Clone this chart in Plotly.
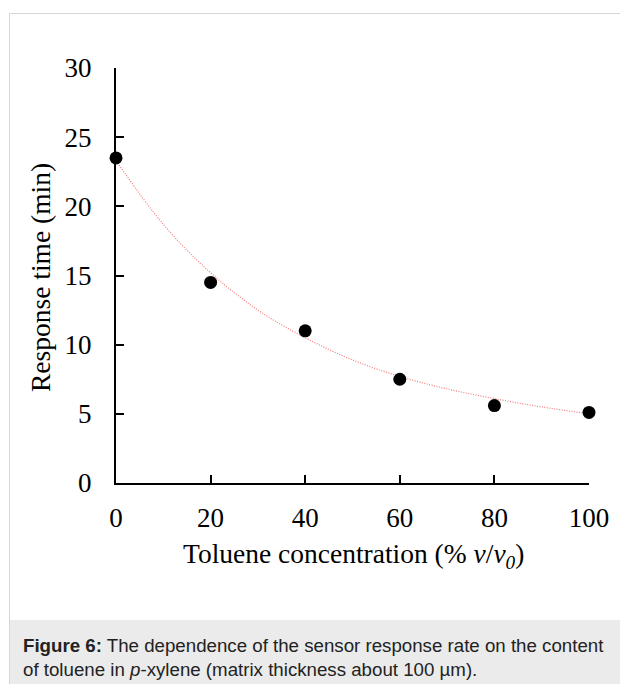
import plotly.graph_objects as go

# Measured response times
toluene_pct = [0, 20, 40, 60, 80, 100]
response_min = [23.5, 14.5, 11.0, 7.5, 5.6, 5.1]

# Trend line through the measurements
trend_x = [0, 10, 20, 30, 40, 50, 60, 70, 80, 90, 100]
trend_y = [23.3, 18.7, 15.2, 12.5, 10.5, 8.9, 7.7, 6.8, 6.1, 5.5, 5.0]

x_ticks = [0, 20, 40, 60, 80, 100]
y_ticks = [0, 5, 10, 15, 20, 25, 30]

W, H = 620, 684
serif = "Liberation Serif, Times New Roman, serif"
sans = "Liberation Sans, Arial, Helvetica, sans-serif"


def px_x(p):
    return p / W


def px_y(p):
    return 1 - p / H


fig = go.Figure()
fig.add_trace(go.Scatter(
    x=trend_x, y=trend_y, mode="lines", line_shape="spline",
    line=dict(color="#f47a7a", width=1.2, dash="1px,1.5px"),
    hoverinfo="skip", showlegend=False,
))
fig.add_trace(go.Scatter(
    x=toluene_pct, y=response_min, mode="markers",
    marker=dict(color="black", size=13),
    cliponaxis=False, showlegend=False,
))

axis_common = dict(
    showgrid=False, zeroline=False, showline=True, linecolor="black",
    linewidth=2, ticks="inside", ticklen=8, tickwidth=1.5, tickcolor="black",
    tickfont=dict(family=serif, size=27, color="black"), automargin=False,
)
fig.update_xaxes(range=[0, 100], tickvals=x_ticks,
                 domain=[px_x(116), px_x(589)], ticklabelstandoff=10,
                 **axis_common)
fig.update_yaxes(range=[0, 30], tickvals=y_ticks,
                 domain=[px_y(483), px_y(68)], ticklabelstandoff=17,
                 **axis_common)

# Outer frame and caption panel
fig.add_shape(type="rect", xref="paper", yref="paper",
              x0=px_x(10), x1=px_x(W + 5), y0=px_y(620), y1=px_y(H + 5),
              fillcolor="#ebebeb", line=dict(width=0), layer="below")
fig.add_shape(type="rect", xref="paper", yref="paper",
              x0=px_x(9.5), x1=px_x(W + 5), y0=px_y(H + 5), y1=px_y(13.5),
              fillcolor="rgba(0,0,0,0)", line=dict(color="#d6d6d6", width=1))

# Axis titles
fig.add_annotation(text="Response time (min)", xref="paper", yref="paper",
                   x=px_x(40), y=px_y(278), textangle=-90, showarrow=False,
                   font=dict(family=serif, size=27.5, color="black"),
                   xanchor="center", yanchor="middle")
fig.add_annotation(text="Toluene concentration (% <i>v</i>/<i>v</i><sub><i>0</i></sub>)",
                   xref="paper", yref="paper",
                   x=px_x(353), y=px_y(555), showarrow=False,
                   font=dict(family=serif, size=27.5, color="black"),
                   xanchor="center", yanchor="middle")

# Caption
fig.add_annotation(text="<b>Figure 6:</b> The dependence of the sensor response rate on the content",
                   xref="paper", yref="paper", x=px_x(21), y=px_y(645),
                   showarrow=False, xanchor="left", yanchor="middle",
                   font=dict(family=sans, size=18.7, color="#222222"))
fig.add_annotation(text="of toluene in <i>p</i>-xylene (matrix thickness about 100 µm).",
                   xref="paper", yref="paper", x=px_x(21), y=px_y(669),
                   showarrow=False, xanchor="left", yanchor="middle",
                   font=dict(family=sans, size=18.7, color="#222222"))

fig.update_layout(
    width=W, height=H,
    margin=dict(l=0, r=0, t=0, b=0, pad=0, autoexpand=False),
    paper_bgcolor="white", plot_bgcolor="white",
)

fig.write_html("out.html")
